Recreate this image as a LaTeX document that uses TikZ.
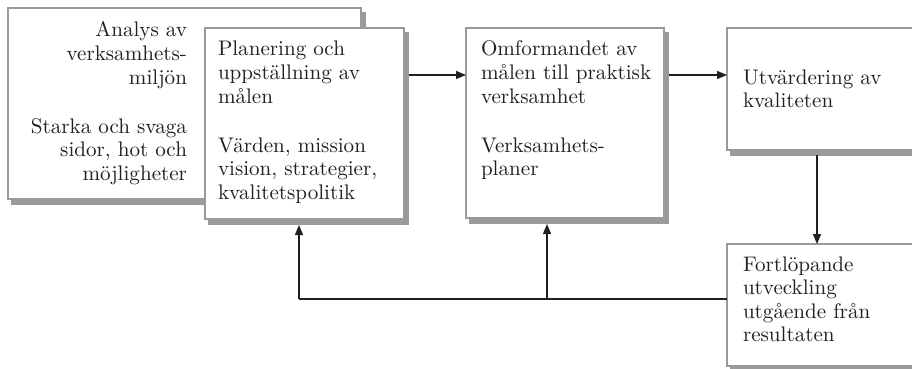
\documentclass[tikz,border=0pt]{standalone}
\usetikzlibrary{shadows,arrows.meta}
\definecolor{boxgray}{HTML}{9A9A9A}
\definecolor{ink}{HTML}{231F20}
\newcommand{\boxtext}[2]{\scalebox{2.11}{\fontsize{10}{11.14}\selectfont\parbox[t]{95pt}{#1#2}}}
\begin{document}
\begin{tikzpicture}[x=1pt,y=-1pt,
  box/.style={draw=boxgray, line width=2.6pt, fill=white, rectangle, inner sep=0pt, outer sep=0pt, anchor=north west,
    copy shadow={shadow xshift=4pt, shadow yshift=-5pt, fill=boxgray, draw=boxgray, line width=2.6pt}},
  txt/.style={inner sep=0pt, outer sep=0pt, text=ink},
  arr/.style={draw=ink, line width=1.2pt, -{Triangle[length=10pt,width=8pt]}},
  ln/.style={draw=ink, line width=1.2pt}]
\clip (0,0) rectangle (912,369);
% boxes
\node[box, minimum width=353pt, minimum height=191pt] (A) at (8,8) {};
\node[box, minimum width=199pt, minimum height=191pt] (B) at (205,28) {};
\node[box, minimum width=198pt, minimum height=190pt] (C) at (466,28) {};
\node[box, minimum width=210pt, minimum height=122pt] (D) at (727,28) {};
\node[box, minimum width=210pt, minimum height=122pt] (E) at (727,244) {};
% texts
\node[txt, anchor=base east] (tA) at (187,37) {\boxtext{\raggedleft}{Analys av\\verksamhets-\\miljön\\[12.3pt]Starka och svaga\\sidor, hot och\\möjligheter}};
\node[txt, anchor=base west] (tB) at (218,56) {\boxtext{\raggedright}{Planering och\\uppställning av\\målen\\[12.3pt]Värden, mission\\vision, strategier,\\kvalitetspolitik}};
\node[txt, anchor=base west] (tC) at (481,56) {\boxtext{\raggedright}{Omformandet av\\målen till praktisk\\verksamhet\\[12.3pt]Verksamhets-\\planer}};
\node[txt, anchor=base west] (tD) at (743,84) {\boxtext{\raggedright}{Utvärdering av\\kvaliteten}};
\node[txt, anchor=base west] (tE) at (743,271) {\boxtext{\raggedright}{Fortlöpande\\utveckling\\utgående från\\resultaten}};
% connectors
\draw[arr, shorten <=5pt] (B.east |- 0,75) -- (C.west |- 0,75);
\draw[arr, shorten <=5pt] (C.east |- 0,75) -- (D.west |- 0,75);
\draw[arr, shorten <=5pt] (817,0 |- D.south) -- (817,0 |- E.north);
\coordinate (j1) at (299,299);
\coordinate (j2) at (547,299);
\draw[ln] (E.west |- j1) -- (j1);
\draw[arr, shorten >=6pt] (j1) -- (j1 |- B.south);
\draw[arr, shorten >=6pt] (j2) -- (j2 |- C.south);
\end{tikzpicture}
\end{document}
